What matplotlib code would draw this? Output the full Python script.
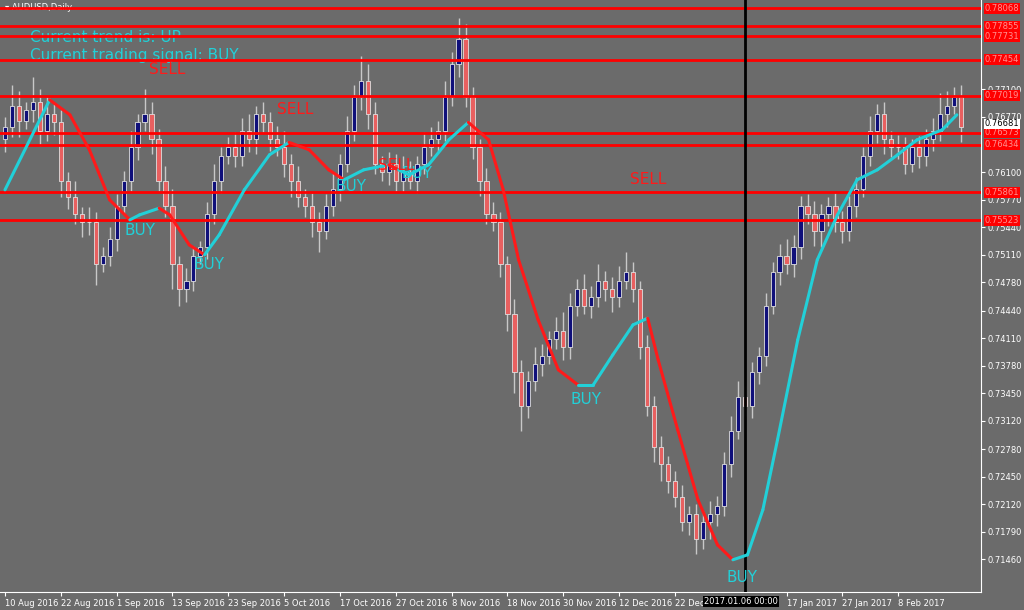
import matplotlib
matplotlib.use("Agg")
import matplotlib.pyplot as plt
from matplotlib.collections import LineCollection

closes = [0.7665,0.7690,0.7672,0.7685,0.7695,0.7660,0.7680,0.7670,
          0.7600,0.7580,0.7560,0.7550,0.7550,0.7500,0.7510,0.7530,
          0.7570,0.7600,0.7640,0.7670,0.7680,0.7650,0.7600,0.7570,
          0.7500,0.7470,0.7480,0.7510,0.7520,0.7560,0.7600,0.7630,
          0.7640,0.7630,0.7660,0.7650,0.7680,0.7670,0.7650,0.7640,
          0.7620,0.7600,0.7580,0.7570,0.7550,0.7540,0.7570,0.7590,
          0.7620,0.7660,0.7700,0.7720,0.7680,0.7620,0.7610,0.7620,
          0.7600,0.7610,0.7600,0.7620,0.7640,0.7650,0.7660,0.7700,
          0.7740,0.7770,0.7700,0.7640,0.7600,0.7560,0.7550,0.7500,
          0.7440,0.7370,0.7330,0.7360,0.7380,0.7390,0.7410,0.7420,
          0.7400,0.7450,0.7470,0.7450,0.7460,0.7480,0.7470,0.7460,
          0.7480,0.7490,0.7470,0.7400,0.7330,0.7280,0.7260,0.7240,
          0.7220,0.7190,0.7200,0.7170,0.7190,0.7200,0.7210,0.7260,
          0.7300,0.7340,0.7330,0.7370,0.7390,0.7450,0.7490,0.7510,
          0.7500,0.7520,0.7570,0.7560,0.7540,0.7560,0.7570,0.7550,
          0.7540,0.7570,0.7590,0.7630,0.7660,0.7680,0.7650,0.7640,
          0.7640,0.7620,0.7640,0.7630,0.7650,0.7660,0.7680,0.7690,
          0.7700,0.7665]
open0 = 0.7650
hi_wick = [12,25,18,10,30,15,20,12, 15,10,20,8,18,12,10,15,
           14,12,20,10,30,15,12,18, 20,10,15,12,8,14,20,10,
           12,18,15,20,10,14,12,16, 20,12,18,10,15,12,14,20,
           12,18,15,30,20,14,10,15, 12,20,14,10,18,15,12,20,
           15,25,18,12,10,15,14,12, 10,18,15,12,20,14,10,16,
           22,15,12,18,14,20,12,15, 18,25,12,10,15,12,14,10,
           12,15,10,12,14,16,12,15, 18,20,14,12,10,15,12,14,
           20,15,12,14,16,12,10,15, 14,12,15,10,18,12,14,10,
           15,12,10,14,12,15,25,18, 12,15]
lo_wick = [15,12,20,10,14,18,12,15, 20,14,12,18,15,25,10,12,
           14,10,12,15,10,18,12,14, 30,20,15,12,10,14,12,15,
           10,14,12,15,18,12,14,10, 15,20,12,14,18,25,10,12,
           14,10,12,15,18,12,10,15, 12,14,10,15,12,10,14,12,
           10,15,12,14,18,12,10,15, 20,25,30,15,12,14,10,12,
           15,14,12,10,15,12,14,18, 12,10,15,14,12,18,20,15,
           12,10,15,18,12,20,14,12, 15,10,12,15,14,12,10,15,
           12,15,14,12,18,20,14,12, 15,12,14,10,12,15,18,12,
           14,12,10,15,12,14,12,15, 10,18]

levels = [0.78068,0.77855,0.77731,0.77454,0.77019,0.76573,0.76434,0.75861,0.75523]
yticks = [0.77100,0.76770,0.76100,0.75770,0.75440,0.75110,0.74780,0.74440,
          0.74110,0.73780,0.73450,0.73120,0.72780,0.72450,0.72120,0.71790,0.71460]
xtick_bars = [0,8,16,24,32,40,48,56,64,72,80,88,96,112,120,128]
xtick_labels = ["10 Aug 2016","22 Aug 2016","1 Sep 2016","13 Sep 2016","23 Sep 2016",
                "5 Oct 2016","17 Oct 2016","27 Oct 2016","8 Nov 2016","18 Nov 2016",
                "30 Nov 2016","12 Dec 2016","22 Dec 2016","17 Jan 2017","27 Jan 2017","8 Feb 2017"]
cursor_bar = 106
cursor_label = "2017.01.06 00:00"
current_price = 0.76681

trend_x = [0,6.4,9.3,12.1,15,17.9,19.3,22.1,23.6,26.4,28.6,30.7,34.3,37.9,40.7,43.6,46.4,48.6,
           51.4,55,56.4,57.9,60.7,63.6,66.4,69.3,71.4,73.6,76.4,79.3,82.1,84.3,87.1,90,92.1,
           93.6,96.4,99.3,102.1,104.3,106.4,108.6,110.7,113.6,116.4,119.3,122.1,125,127.9,
           130.7,134.3,136.4]
trend_y = [0.7589,0.7697,0.7679,0.7637,0.7577,0.7553,0.7559,0.7567,0.7559,0.7523,0.7511,
           0.7535,0.7589,0.7631,0.7646,0.7637,0.7613,0.7601,0.7613,0.7619,0.7613,0.7607,
           0.7619,0.7649,0.7670,0.7649,0.7589,0.7505,0.7433,0.7373,0.7355,0.7355,0.7391,
           0.7427,0.7435,0.7385,0.7301,0.7217,0.7163,0.7145,0.7151,0.7205,0.7289,0.7409,
           0.7505,0.7559,0.7601,0.7613,0.7631,0.7649,0.7661,0.7679]
trend_col = ['c','c','r','r','r','r','c','c','r','r','r','c','c','c','c','r','r','r',
             'c','c','r','c','c','c','c','r','r','r','r','r','r','c','c','c','c',
             'r','r','r','r','r','c','c','c','c','c','c','c','c','c','c','c','c']

buy_sig = [(19.3,0.7540),(29.3,0.7500),(49.6,0.7593),(59,0.7609),(83.3,0.7338),(105.6,0.7124)]
sell_sig = [(23.3,0.7733),(41.6,0.7685),(56.1,0.7618),(92.1,0.7601)]

BG = '#6b6b6b'
RED = '#ff1a1a'
CYAN = '#22d0d8'
fig = plt.figure(figsize=(10.24,6.10), dpi=100, facecolor=BG)
ax = fig.add_axes([0.0, 0.0295, 0.958, 0.9705], facecolor=BG)

opens = [open0] + closes[:-1]
for i,(o,c) in enumerate(zip(opens,closes)):
    hi = max(o,c) + hi_wick[i]*1e-4
    lo = min(o,c) - lo_wick[i]*1e-4
    ax.vlines(i, lo, hi, color='#c8c8c8', lw=1, zorder=2)
    up = c >= o
    ax.bar(i, max(abs(c-o),0.0001), bottom=min(o,c), width=0.6,
           color='#10107a' if up else '#e86060', edgecolor='#e0e0e0', lw=0.6, zorder=3)

for lv in levels:
    ax.axhline(lv, color='#ff0000', lw=2, zorder=4)
ax.axvline(cursor_bar, color='black', lw=2, zorder=4)

segs, cols = [], []
for k in range(1,len(trend_x)):
    segs.append([(trend_x[k-1],trend_y[k-1]),(trend_x[k],trend_y[k])])
    cols.append(RED if trend_col[k]=='r' else CYAN)
ax.add_collection(LineCollection(segs, colors=cols, lw=2.2, zorder=5, capstyle='round'))

for x,y in buy_sig:
    ax.text(x,y,"BUY",color=CYAN,fontsize=11,ha='center',va='center',zorder=6)
for x,y in sell_sig:
    ax.text(x,y,"SELL",color=RED,fontsize=11,ha='center',va='center',zorder=6)

ax.text(0.005,0.995,"▾ AUDUSD,Daily",transform=ax.transAxes,color='white',fontsize=6,va='top')
ax.text(0.031,0.936,"Current trend is: UP",transform=ax.transAxes,color=CYAN,fontsize=11,va='center')
ax.text(0.031,0.906,"Current trading signal: BUY",transform=ax.transAxes,color=CYAN,fontsize=11,va='center')

ax.set_xlim(-0.714, 139.86)
ax.set_ylim(0.71064, 0.78168)
ax.yaxis.tick_right()
ax.set_yticks(yticks)
ax.set_yticklabels([f"{v:.5f}" for v in yticks], color='white', fontsize=6)
ax.set_xticks(xtick_bars)
ax.set_xticklabels(xtick_labels, color='white', fontsize=6, ha='left')
ax.tick_params(colors='white', length=3, pad=2)
for lv in levels:
    ax.text(1.004, lv, f"{lv:.5f}", transform=ax.get_yaxis_transform(), color='#ff9090',
            fontsize=6, va='center', bbox=dict(fc='#ff0000', ec='none', pad=0.6), clip_on=False, zorder=7)
ax.text(1.004, current_price, f"{current_price:.5f}", transform=ax.get_yaxis_transform(), color='black',
        fontsize=6, va='center', bbox=dict(fc='white', ec='none', pad=0.6), clip_on=False, zorder=8)
ax.text(cursor_bar - 0.5, -0.008, cursor_label, transform=ax.get_xaxis_transform(), color='white',
        fontsize=6, va='top', ha='center', bbox=dict(fc='black', ec='none', pad=0.6), clip_on=False, zorder=8)
for s in ax.spines.values():
    s.set_color('white')
ax.spines['top'].set_visible(False)
ax.spines['left'].set_visible(False)
fig.savefig("out.png", dpi=100, facecolor=BG)
